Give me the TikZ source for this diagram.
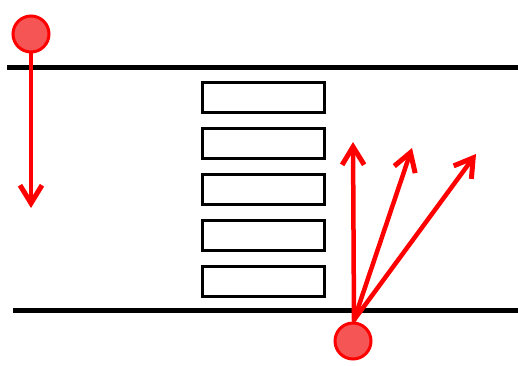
\documentclass[tikz,border=0pt]{standalone}
\usetikzlibrary{arrows.meta}
\definecolor{ballred}{RGB}{245,85,85}
\tikzset{
  wall/.style={line width=5pt},
  bar/.style={draw,rectangle,line width=3pt,minimum width=122pt,minimum height=30pt,inner sep=0pt},
  ball/.style={circle,draw=red,fill=ballred,line width=3pt,minimum size=36pt,inner sep=0pt},
  ray/.style={red,line width=4.5pt,line cap=round,-{Straight Barb[length=18pt,width=22pt,line width=5pt]}}
}
\begin{document}
\begin{tikzpicture}[x=1pt,y=-1pt]
   \useasboundingbox (0,0) rectangle (518,365);
   % walls
   \draw[wall] (7,67)--(518,67);
   \draw[wall] (13,310)--(518,310);
   % slats
   \foreach \i in {1,...,5}
      \node[bar] (bar\i) at (263,{97+46*(\i-1)}) {};
   % falling ball
   \coordinate (fallend) at (31,208);
   \draw[ray] (31,40)--(fallend);
   \node[ball] (src) at (31,34) {};
   % ball below, three rays
   \coordinate (tipa) at (353,142);
   \coordinate (tipb) at (412,148);
   \coordinate (tipc) at (476,154);
   \node[ball] (hit) at (353,341) {};
   \draw[ray] (354,320)--(tipa);
   \draw[ray] (354,320)--(tipb);
   \draw[ray] (354,320)--(tipc);
\end{tikzpicture}
\end{document}
